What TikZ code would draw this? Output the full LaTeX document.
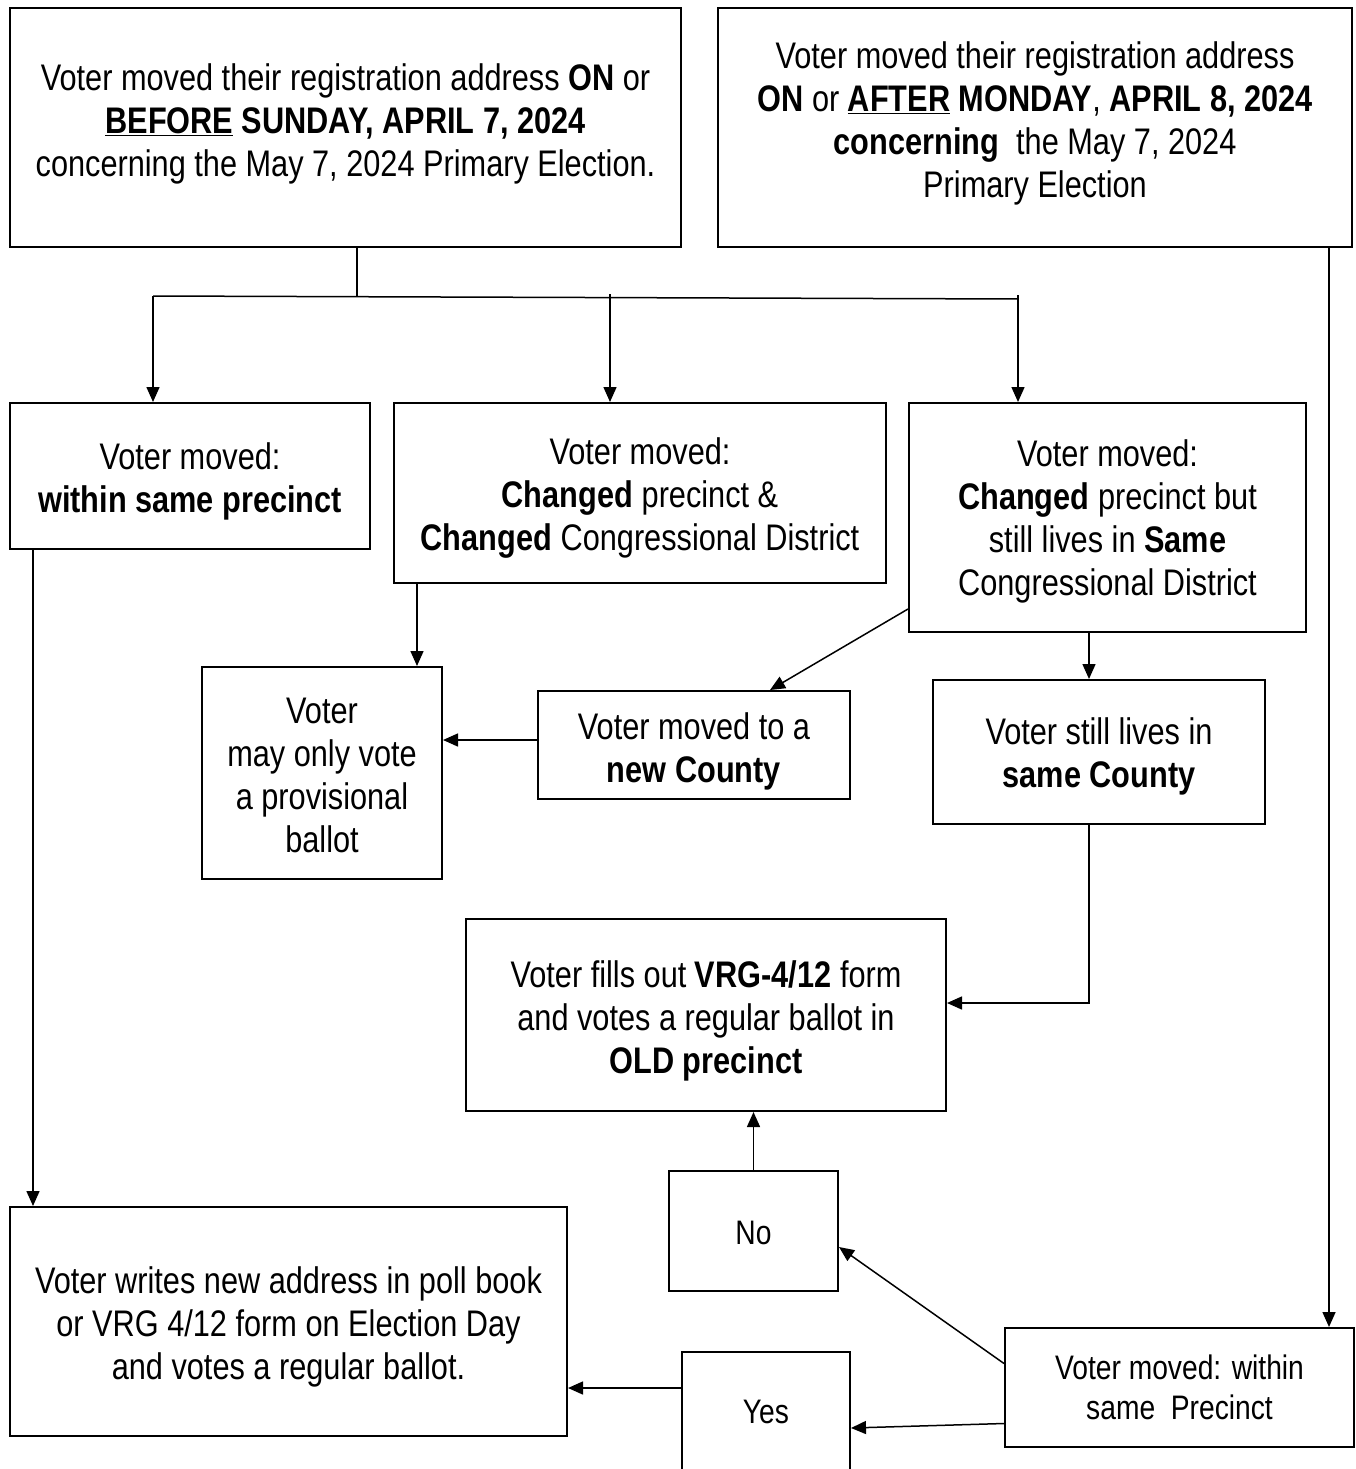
\documentclass[tikz,border=0pt]{standalone}
\usepackage{fontspec}
\setmainfont{Liberation Sans}[FakeStretch=0.83]
\usetikzlibrary{arrows.meta}
\begin{document}
\begin{tikzpicture}[x=1pt,y=-1pt,
  box/.style={draw, line width=2pt, inner sep=0pt},
  txt/.style={inner sep=0pt, align=center, font=\fontsize{37}{43}\selectfont},
  smalltxt/.style={txt, font=\fontsize{34}{40}\selectfont},
  conn/.style={line width=1.5pt, -{Triangle[length=15pt,width=13pt]}},
  plain/.style={line width=1.5pt}]
\useasboundingbox (0,0) rectangle (1356,1469);

% boxes
\node[box, minimum width=671pt, minimum height=239pt] (b1) at (345.5,127.5) {};
\node[box, minimum width=634pt, minimum height=239pt] (b2) at (1035,127.5) {};
\node[box, minimum width=360pt, minimum height=146pt] (b4) at (190,476) {};
\node[box, minimum width=492pt, minimum height=180pt] (b5) at (640,493) {};
\node[box, minimum width=397pt, minimum height=229pt] (b6) at (1107.5,517.5) {};
\node[box, minimum width=240pt, minimum height=212pt] (b7) at (322,773) {};
\node[box, minimum width=312pt, minimum height=108pt] (b8) at (694,745) {};
\node[box, minimum width=332pt, minimum height=144pt] (b9) at (1099,752) {};
\node[box, minimum width=480pt, minimum height=192pt] (b10) at (706,1015) {};
\node[box, minimum width=169pt, minimum height=120pt] (no) at (753.5,1231) {};
\node[box, minimum width=557pt, minimum height=229pt] (b12) at (288.5,1321.5) {};
\node[box, minimum width=168pt, minimum height=120pt] (yes) at (766,1412) {};
\node[box, minimum width=349pt, minimum height=119pt] (b14) at (1179.5,1387.5) {};

% texts
\node[txt] (t1) at ([yshift=4pt]b1.center)
  {Voter moved their registration address \textbf{ON} or\\
   \textbf{\underline{BEFORE} SUNDAY, APRIL 7, 2024}\\
   concerning the May 7, 2024 Primary Election.};
\node[txt] (t2) at ([yshift=4pt]b2.center)
  {Voter moved their registration address\\
   \textbf{ON} or \textbf{\underline{AFTER} MONDAY}, \textbf{APRIL 8, 2024}\\
   \textbf{concerning}\ \ the May 7, 2024\\
   Primary Election};
\node[txt] (t4) at ([yshift=-5pt]b4.center)
  {Voter moved:\\ \textbf{within same precinct}};
\node[txt] (t5) at ([yshift=-5pt]b5.center)
  {Voter moved:\\ \textbf{Changed} precinct \&\\ \textbf{Changed} Congressional District};
\node[txt] (t6) at ([yshift=-4pt]b6.center)
  {Voter moved:\\ \textbf{Changed} precinct but\\ still lives in \textbf{Same}\\ Congressional District};
\node[txt] (t7) at ([yshift=-2pt]b7.center)
  {Voter\\ may only vote\\ a provisional\\ ballot};
\node[txt] (t8) at ([yshift=-6pt]b8.center)
  {Voter moved to a\\ \textbf{new County}};
\node[txt] (t9) at ([yshift=-4pt]b9.center)
  {Voter still lives in\\ \textbf{same County}};
\node[txt] (t10) at ([yshift=-6pt]b10.center)
  {Voter fills out \textbf{VRG-4/12} form\\ and votes a regular ballot in\\ \textbf{OLD precinct}};
\node[smalltxt] (tno) at ([yshift=-2pt]no.center) {No};
\node[txt] (t12) at ([yshift=-5pt]b12.center)
  {Voter writes new address in poll book\\ or VRG 4/12 form on Election Day\\ and votes a regular ballot.};
\node[smalltxt] (tyes) at (yes.center) {Yes};
\node[smalltxt] (t14) at (b14.center)
  {Voter moved: within\\ same\ \ Precinct};

% top-left fan out
\coordinate (j) at (357,296.5);
\coordinate (jL) at (153,296);
\coordinate (jM) at (610,294);
\coordinate (jR) at (1018,295);
\coordinate (jE) at (1018,299);
\draw[plain] (b1.south -| j) -- (j);
\draw[plain] (jL) -- (jE);
\draw[conn] (jL) -- (jL |- b4.north);
\draw[conn] (jM) -- (jM |- b5.north);
\draw[conn] (jR) -- (jR |- b6.north);

\draw[conn] ([xshift=24pt]b5.south west) -- ([xshift=216pt]b7.north west);
\draw[conn] ([yshift=24pt]b6.south west) -- ([xshift=233pt]b8.north west);
\draw[conn] ([xshift=181pt]b6.south west) -- ([xshift=157pt]b9.north west);
\draw[conn] ([yshift=5pt]b8.west) -- ([yshift=5pt]b8.west -| b7.east);
\draw[conn] ([xshift=157pt]b9.south west) |- ([yshift=12pt]b10.east);
\draw[conn] ([xshift=24pt]b4.south west) -- ([xshift=24pt]b12.north west);
\draw[conn] ([xshift=612pt]b2.south west) -- ([xshift=325pt]b14.north west);
\draw[conn] ([yshift=24pt]b14.west) -- ([yshift=-16pt]no.east);
\draw[conn] ([yshift=-36pt]b14.west) -- ([yshift=-16pt]yes.east);
\draw[conn] ([yshift=24pt]yes.west) -- ([yshift=24pt]yes.west -| b12.east);
\draw[conn] (no.north) -- (no.north |- b10.south);
\end{tikzpicture}
\end{document}
